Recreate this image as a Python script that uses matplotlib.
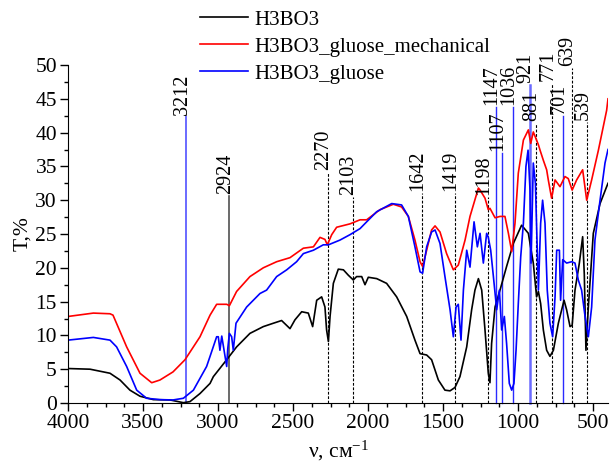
import matplotlib
matplotlib.use("Agg")
import matplotlib.pyplot as plt
from matplotlib.ticker import MultipleLocator

plt.rcParams['font.family'] = ['Liberation Serif', 'DejaVu Serif']
plt.rcParams['mathtext.fontset'] = 'custom'
plt.rcParams['mathtext.rm'] = 'Liberation Serif'
plt.rcParams['mathtext.it'] = 'Liberation Serif:italic'

# ---- data ----
black_wn = [4000, 3853, 3720, 3653, 3587, 3520, 3431, 3320, 3231, 3187, 3120, 3053, 3031, 2942, 2876,
            2787, 2698, 2631, 2576, 2520, 2487, 2442, 2398, 2369, 2342, 2309, 2287, 2276, 2264, 2253,
            2231, 2198, 2164, 2131, 2098, 2076, 2042, 2020, 1998, 1942, 1876, 1809, 1742, 1687, 1653,
            1609, 1576, 1531, 1487, 1453, 1420, 1387, 1342, 1309, 1287, 1264, 1242, 1220, 1198, 1187,
            1176, 1153, 1120, 1076, 1031, 976, 931, 898, 876, 864, 849, 831, 809, 787, 764, 731, 693,
            676, 653, 639, 620, 591, 569, 558, 547, 531, 498, 453, 409, 400]
black_T = [5.1, 5.0, 4.4, 3.4, 1.9, 1.0, 0.5, 0.45, 0.05, 0.2, 1.4, 2.9, 3.9, 6.4, 8.3,
           10.3, 11.3, 11.8, 12.2, 11.0, 12.3, 13.5, 13.3, 11.3, 15.2, 15.7, 14.2, 10.8, 9.1, 12.8,
           17.7, 19.8, 19.7, 18.9, 18.2, 18.7, 18.7, 17.5, 18.6, 18.4, 17.7, 15.7, 12.8, 9.3, 7.3,
           7.1, 6.4, 3.4, 1.9, 1.8, 2.3, 3.9, 8.3, 13.8, 16.7, 18.4, 16.7, 10.8, 4.4, 3.0,
           8.8, 14.2, 16.7, 20.2, 23.6, 26.3, 25.1, 20.7, 15.7, 16.5, 14.7, 10.8, 7.8, 6.9, 7.8, 11.8, 15.2,
           13.8, 11.3, 11.5, 16.7, 20.7, 24.6, 19.0, 7.8, 14.2, 25.1, 29.5, 32.0, 32.5]

red_wn = [4000, 3831, 3720, 3700, 3609, 3520, 3442, 3387, 3300, 3220, 3120, 3053, 3009, 2942, 2924,
          2876, 2787, 2698, 2609, 2520, 2431, 2364, 2320, 2287, 2271, 2242, 2209, 2120, 2053, 2009,
          1920, 1831, 1776, 1731, 1687, 1653, 1636, 1609, 1576, 1553, 1520, 1476, 1431, 1398, 1353,
          1320, 1264, 1253, 1220, 1198, 1187, 1153, 1120, 1087, 1064, 1042, 1020, 998, 964, 931,
          915, 898, 864, 853, 831, 809, 798, 776, 753, 720, 687, 665, 639, 609, 569, 542, 509,
          464, 409, 400]
red_T = [12.8, 13.3, 13.2, 13.0, 8.3, 4.4, 3.0, 3.4, 4.6, 6.4, 9.8, 13.0, 14.6, 14.6, 14.4,
         16.5, 18.7, 20.0, 20.9, 21.5, 22.9, 23.1, 24.5, 24.2, 23.4, 24.9, 26.0, 26.5, 27.1, 27.1,
         28.6, 29.4, 29.0, 27.6, 24.1, 20.9, 20.2, 22.6, 25.6, 26.2, 25.3, 22.1, 19.7, 20.4, 24.1,
         27.6, 31.8, 31.5, 30.3, 28.6, 28.8, 27.4, 27.6, 27.6, 25.1, 22.4, 26.6, 34.0, 38.9, 40.4,
         38.4, 40.1, 38.2, 37.4, 35.9, 34.5, 33.0, 30.3, 33.0, 32.0, 33.5, 33.2, 31.5, 33.0, 34.5, 30.0, 33.0,
         37.4, 43.3, 45.0]

blue_wn = [4000, 3831, 3720, 3676, 3609, 3542, 3476, 3387, 3300, 3231, 3164, 3076, 3053, 3009, 2998,
           2987, 2975, 2953, 2942, 2935, 2924, 2909, 2898, 2880, 2809, 2720, 2676, 2609, 2542, 2476,
           2431, 2364, 2298, 2264, 2187, 2120, 2053, 2031, 1942, 1842, 1776, 1731, 1687, 1653, 1636,
           1609, 1576, 1553, 1520, 1487, 1453, 1431, 1413, 1398, 1380, 1364, 1342, 1320, 1293, 1271,
           1253, 1231, 1209, 1198, 1182, 1164, 1142, 1124, 1109, 1091, 1076, 1058, 1042, 1027, 1013,
           998, 982, 964, 947, 933, 920, 913, 898, 884, 864, 849, 836, 820, 805, 787, 769, 753, 742,
           724, 716, 702, 676, 642, 620, 598, 576, 553, 531, 509, 487, 453, 420, 400]
blue_T = [9.3, 9.7, 9.3, 8.3, 5.4, 1.9, 0.7, 0.5, 0.45, 0.7, 1.9, 5.4, 6.9, 9.8, 9.8,
          7.8, 9.9, 6.9, 5.4, 8.0, 10.3, 9.8, 7.8, 11.8, 14.2, 16.2, 16.7, 18.7, 19.7, 20.9,
          22.1, 22.6, 23.4, 23.4, 24.1, 24.9, 25.8, 26.3, 28.3, 29.5, 29.3, 27.6, 23.1, 19.4, 19.2,
          23.1, 25.3, 25.6, 23.6, 18.7, 13.8, 9.8, 14.2, 14.6, 9.3, 16.7, 22.6, 20.1, 26.8, 23.1,
          25.1, 20.7, 25.1, 24.5, 22.6, 18.7, 13.8, 16.7, 10.8, 12.8, 8.8, 2.9, 1.9, 2.9, 7.8,
          14.7, 21.6, 26.6, 35.0, 37.4, 31.5, 20.7, 35.5, 32.5, 16.7, 26.6, 30.0, 26.6, 16.7, 11.8, 9.8, 15.7, 22.6,
          22.6, 15.2, 21.2, 20.7, 20.9, 20.7, 18.2, 16.7, 12.8, 9.8, 14.2, 24.1, 30.0, 35.5, 37.5]

series_names = ['H3BO3', 'H3BO3_gluose_mechanical', 'H3BO3_gluose']

peak_wn = [3212, 2924, 2270, 2103, 1642, 1419, 1198, 1147, 1107, 1036, 921, 881, 771, 701, 639, 539]
peak_top = [42.3, 30.6, 34.2, 30.4, 31.0, 31.0, 30.5, 43.8, 37.0, 43.8, 47.0, 41.4, 47.3, 42.4, 49.5, 41.6]
peak_kind = ['lb', 'k', 'd', 'd', 'd', 'd', 'd', 'b', 'b', 'b', 'lb2', 'd', 'd', 'b', 'd', 'd']

# ---- figure ----
fig = plt.figure(figsize=(6.11, 4.63), dpi=100)
ax = fig.add_axes([68/611, 60/463, 540/611, 338/463])

l1, = ax.plot(black_wn, black_T, color='black', lw=1.2)
l2, = ax.plot(red_wn, red_T, color='red', lw=1.2)
l3, = ax.plot(blue_wn, blue_T, color='blue', lw=1.2)

styles = {
    'lb': dict(color='#6a6aff', lw=1.4, ls='-'),
    'lb2': dict(color='#6a6aff', lw=1.8, ls='-'),
    'b': dict(color='#2a2aff', lw=1.0, ls='-'),
    'k': dict(color='#505050', lw=1.2, ls='-'),
    'd': dict(color='black', lw=0.8, ls=(0, (2.5, 1.5))),
}
for wn, top, kind in zip(peak_wn, peak_top, peak_kind):
    ax.plot([wn, wn], [0, top], clip_on=False, zorder=1, **styles[kind])
    ax.annotate(str(wn), xy=(wn, top), xytext=(-3, 1.5), textcoords='offset points',
                rotation=90, ha='center', va='bottom', fontsize=14.5, annotation_clip=False)

ax.set_xlim(4000, 400)
ax.set_ylim(0, 50)
ax.xaxis.set_major_locator(MultipleLocator(500))
ax.xaxis.set_minor_locator(MultipleLocator(125))
ax.yaxis.set_major_locator(MultipleLocator(5))
ax.yaxis.set_minor_locator(MultipleLocator(2.5))
for s in ['top', 'right']:
    ax.spines[s].set_visible(False)
ax.tick_params(which='major', direction='out', length=6, width=1, labelsize=15.5, pad=2)
ax.tick_params(which='minor', direction='out', length=3, width=1)
ax.patch.set_alpha(0)

ax.set_xlabel(r'ν, см$^{-1}$', fontsize=15.5, labelpad=4)
ax.set_ylabel('T,%', fontsize=15.5, labelpad=2)

ax.legend([l1, l2, l3], series_names, loc='upper left', bbox_to_anchor=(200/611, 1 - 10/463),
          bbox_transform=fig.transFigure, frameon=False, fontsize=15, handlelength=2.3,
          handletextpad=0.3, labelspacing=0.36, borderpad=0, borderaxespad=0)

fig.savefig('out.png', dpi=100)
